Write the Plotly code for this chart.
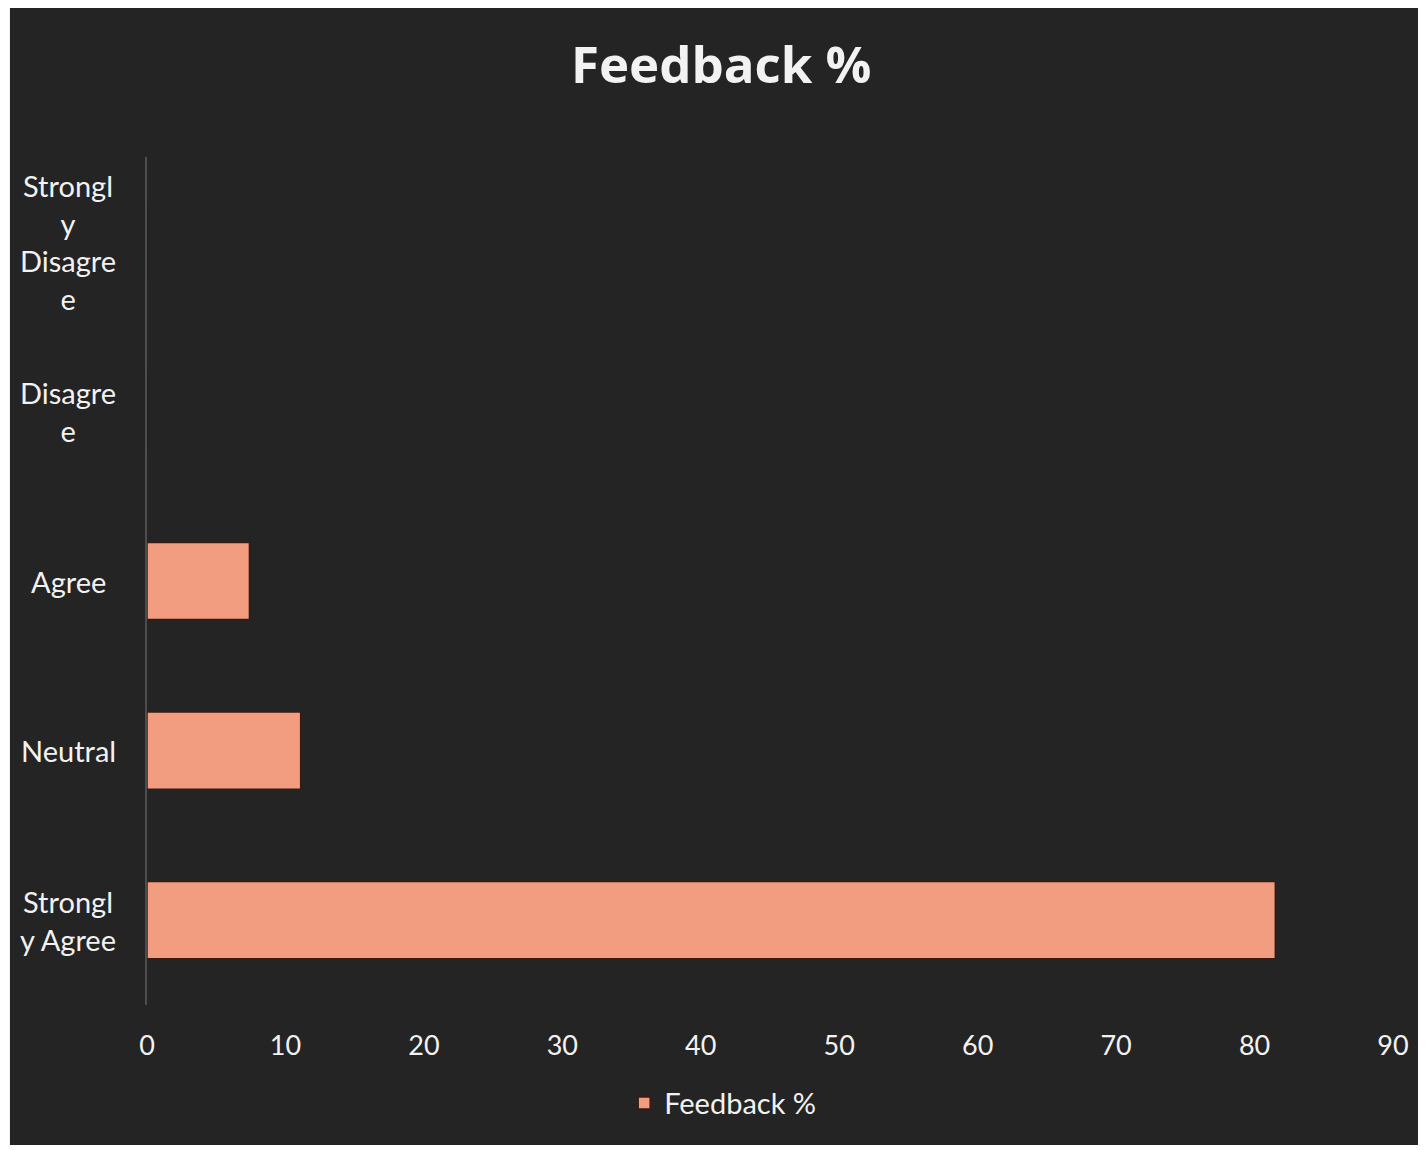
import plotly.graph_objects as go

categories = ["Strongly Agree", "Neutral", "Agree", "Disagree", "Strongly Disagree"]
category_labels = ["Strongl<br>y Agree", "Neutral", "Agree", "Disagre<br>e", "Strongl<br>y<br>Disagre<br>e"]
feedback_pct = [81.5, 11.1, 7.4, 0, 0]
x_ticks = [0, 10, 20, 30, 40, 50, 60, 70, 80, 90]

FONT = "Lato"
TXT = "#f2f2f2"

fig = go.Figure()
fig.add_trace(go.Bar(
    y=categories, x=feedback_pct, orientation="h",
    name="Feedback %",
    marker=dict(color="#F29C80", line=dict(color="#3a1a10", width=1.5)),
))

annotations = []
for cat, lab in zip(categories, category_labels):
    annotations.append(dict(
        x=-0.0634, xref="paper", y=cat, yref="y",
        text=lab, showarrow=False, align="center",
        xanchor="center", yanchor="middle",
        font=dict(family=FONT, size=29, color=TXT),
    ))

fig.update_layout(
    width=1418, height=1142,
    paper_bgcolor="#ffffff",
    plot_bgcolor="rgba(0,0,0,0)",
    margin=dict(l=139, r=33, t=149, b=145),
    bargap=0.545,
    title=dict(text="<b>Feedback %</b>", x=0.503, xanchor="center",
               y=1 - 57 / 1142, yanchor="middle", yref="container",
               font=dict(family="Open Sans", size=51, color=TXT)),
    xaxis=dict(range=[0, 90], tickvals=x_ticks, showgrid=False, zeroline=False,
               showline=False, ticks="", ticklabelstandoff=22,
               tickfont=dict(family=FONT, size=27, color=TXT)),
    yaxis=dict(range=[-0.5, 4.5], categoryorder="array", categoryarray=categories,
               showgrid=False, zeroline=False, showline=True,
               linecolor="#4d4d4d", linewidth=2, showticklabels=False, ticks=""),
    showlegend=True,
    legend=dict(orientation="h", x=0.462, xanchor="center", y=-0.1156, yanchor="middle",
                font=dict(family=FONT, size=29, color=TXT), bgcolor="rgba(0,0,0,0)"),
    annotations=annotations,
    shapes=[dict(type="rect", xref="paper", yref="paper", layer="below",
                 x0=-0.110, x1=1.0217, y0=-0.165, y1=1.1757,
                 fillcolor="#242424", line=dict(width=0))],
)

fig.write_html("out.html")
